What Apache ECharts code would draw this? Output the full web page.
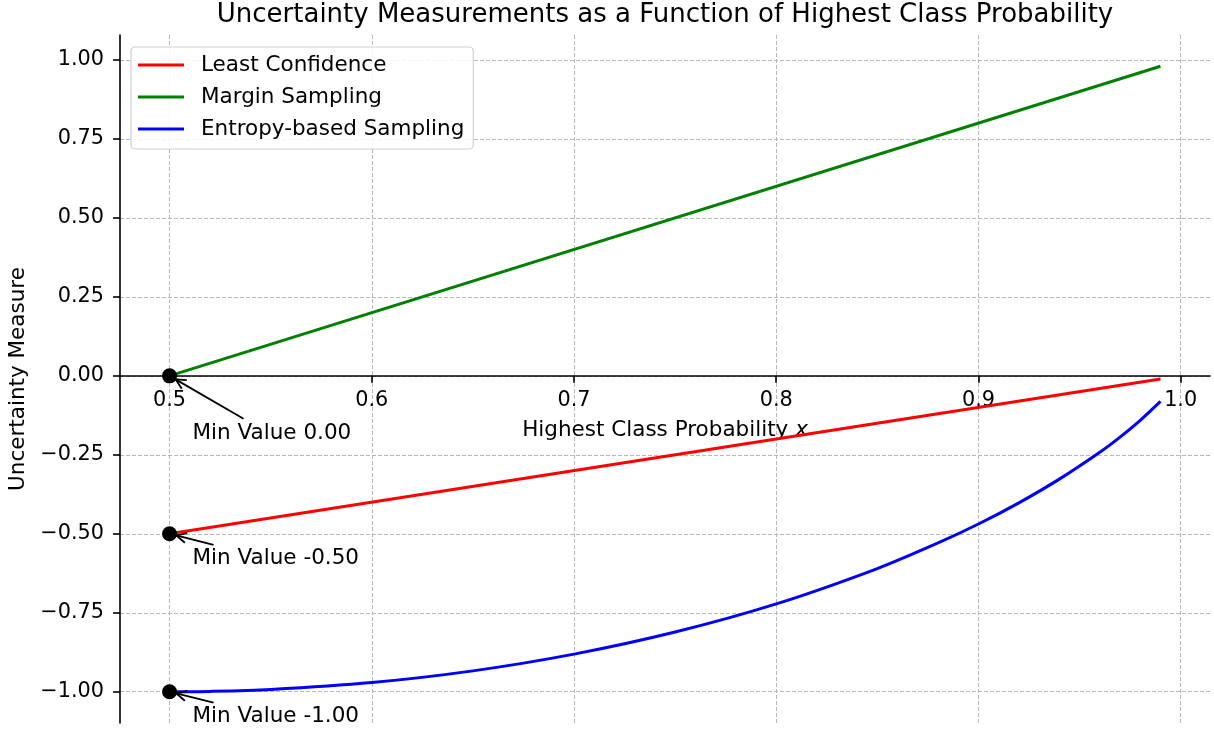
<!DOCTYPE html>
<html>
<head>
<meta charset="utf-8">
<script src="https://cdn.jsdelivr.net/npm/echarts@6/dist/echarts.min.js"></script>
<style>
  html, body { margin: 0; padding: 0; background: #fff; }
  #chart { width: 1214px; height: 731px; }
</style>
</head>
<body>
<div id="chart"></div>
<script>
// data
var leastConfidence = [[0.50, -0.50], [0.99, -0.01]];
var marginSampling = [[0.50, 0.00], [0.99, 0.98]];
var entropySampling = [
  [0.50, -1.000], [0.52, -0.999], [0.55, -0.993], [0.60, -0.971],
  [0.65, -0.934], [0.70, -0.881], [0.75, -0.811], [0.80, -0.722],
  [0.85, -0.610], [0.88, -0.529], [0.90, -0.469], [0.92, -0.402],
  [0.94, -0.327], [0.96, -0.242], [0.97, -0.194], [0.98, -0.141],
  [0.99, -0.081]
];
var minPoints = [[0.5, 0.0], [0.5, -0.5], [0.5, -1.0]];
var minLabels = ['Min Value 0.00', 'Min Value -0.50', 'Min Value -1.00'];
var xTicks = [0.5, 0.6, 0.7, 0.8, 0.9, 1.0];
var yTicks = [-1.0, -0.75, -0.5, -0.25, 0.0, 0.25, 0.5, 0.75, 1.0];

var FONT = 'DejaVu Sans';
var FS_TICK = 20.8;
var FS = 21.5;
var myChart = echarts.init(document.getElementById('chart'));

var gridLine = { show: true, lineStyle: { color: '#b8b8b8', width: 1, type: [4, 2] } };

var option = {
  backgroundColor: '#fff',
  animation: false,
  textStyle: { fontFamily: FONT },
  title: {
    text: 'Uncertainty Measurements as a Function of Highest Class Probability',
    left: 665,
    textAlign: 'center',
    top: 2,
    padding: 0,
    textStyle: { fontFamily: FONT, fontSize: 26, fontWeight: 'normal', color: '#000' }
  },
  legend: {
    orient: 'vertical',
    left: 131,
    top: 47,
    padding: [6, 9, 8, 7],
    itemWidth: 46,
    itemHeight: 3,
    itemGap: 8,
    icon: 'rect',
    borderColor: '#d0d0d0',
    borderWidth: 1.2,
    borderRadius: 4,
    backgroundColor: 'rgba(255,255,255,0.85)',
    textStyle: { fontFamily: FONT, fontSize: FS, color: '#000', lineHeight: 24, padding: [0, 0, 0, 12] },
    data: ['Least Confidence', 'Margin Sampling', 'Entropy-based Sampling']
  },
  grid: { left: 120, right: 4, top: 35, bottom: 8, containLabel: false, outerBoundsMode: 'none' },
  xAxis: {
    type: 'value',
    min: 0.4755,
    max: 1.0145,
    name: '{a|Highest Class Probability }{i|x}',
    nameLocation: 'middle',
    nameGap: 44,
    nameTextStyle: {
      rich: {
        a: { fontFamily: FONT, fontSize: FS, color: '#000' },
        i: { fontFamily: FONT, fontSize: FS, color: '#000', fontStyle: 'italic' }
      }
    },
    axisLine: { onZero: false, lineStyle: { color: '#000', width: 1.6 } },
    axisTick: { show: true, length: 7, customValues: xTicks, lineStyle: { color: '#000', width: 1.6 } },
    axisLabel: {
      customValues: xTicks, margin: 14, fontFamily: FONT, fontSize: FS_TICK, color: '#000',
      formatter: function (v) { return v.toFixed(1); }
    },
    splitLine: gridLine
  },
  yAxis: {
    type: 'value',
    min: -1.099,
    max: 1.079,
    name: 'Uncertainty Measure',
    nameLocation: 'middle',
    nameRotate: 90,
    nameGap: 90,
    nameTextStyle: { fontFamily: FONT, fontSize: FS, color: '#000' },
    axisLine: { show: true, onZero: false, lineStyle: { color: '#000', width: 1.6 } },
    axisTick: { show: true, length: 7, customValues: yTicks, lineStyle: { color: '#000', width: 1.6 } },
    axisLabel: {
      customValues: yTicks, margin: 16, fontFamily: FONT, fontSize: FS_TICK, color: '#000',
      formatter: function (v) { return v.toFixed(2).replace('-', '\u2212'); }
    },
    splitLine: gridLine
  },
  series: [
    {
      name: 'Least Confidence', type: 'line', data: leastConfidence,
      showSymbol: false, symbol: 'none', color: '#ff0000',
      lineStyle: { width: 3, color: '#ff0000' }, z: 3
    },
    {
      name: 'Margin Sampling', type: 'line', data: marginSampling,
      showSymbol: false, symbol: 'none', color: '#008000',
      lineStyle: { width: 3, color: '#008000' }, z: 3
    },
    {
      name: 'Entropy-based Sampling', type: 'line', data: entropySampling,
      showSymbol: false, symbol: 'none', smooth: 0.3, color: '#0000ff',
      lineStyle: { width: 3, color: '#0000ff' }, z: 3
    },
    {
      name: 'min', type: 'scatter', data: minPoints,
      symbolSize: 15, itemStyle: { color: '#000', opacity: 1 }, z: 5
    }
  ]
};
myChart.setOption(option);

// move the x axis (line, ticks, labels, name) up to y = 0
var zeroY = myChart.convertToPixel({ yAxisIndex: 0 }, 0);
var bottomY = myChart.convertToPixel({ yAxisIndex: 0 }, option.yAxis.min);
myChart.setOption({ xAxis: { offset: -(bottomY - zeroY) } });

// annotations: text + arrow, positioned relative to each min point
var textOffsets = [[23, 58], [23, 25], [23, 25]];
var tailOffsets = [[74, 43], [44, 11], [44, 11]];
var graphics = [];
minPoints.forEach(function (p, i) {
  var c = myChart.convertToPixel({ seriesIndex: 3 }, p);
  var tx = c[0] + tailOffsets[i][0], ty = c[1] + tailOffsets[i][1];
  var dx = c[0] - tx, dy = c[1] - ty;
  var len = Math.sqrt(dx * dx + dy * dy);
  var ux = dx / len, uy = dy / len;
  var hx = c[0] - ux * 7, hy = c[1] - uy * 7;
  var ah = 10, aw = 5;
  var bx = hx - ux * ah, by = hy - uy * ah;
  graphics.push({
    type: 'line', z: 10, silent: true,
    shape: { x1: tx, y1: ty, x2: hx, y2: hy },
    style: { stroke: '#000', lineWidth: 1.8 }
  });
  graphics.push({
    type: 'polyline', z: 10, silent: true,
    shape: { points: [[bx - uy * aw, by + ux * aw], [hx, hy], [bx + uy * aw, by - ux * aw]] },
    style: { stroke: '#000', lineWidth: 1.8, fill: null }
  });
  graphics.push({
    type: 'text', z: 10, silent: true,
    x: c[0] + textOffsets[i][0], y: c[1] + textOffsets[i][1],
    style: {
      text: minLabels[i], fontFamily: FONT, fontSize: FS, fill: '#000',
      verticalAlign: 'middle', align: 'left'
    }
  });
});
myChart.setOption({ graphic: graphics });
</script>
</body>
</html>
